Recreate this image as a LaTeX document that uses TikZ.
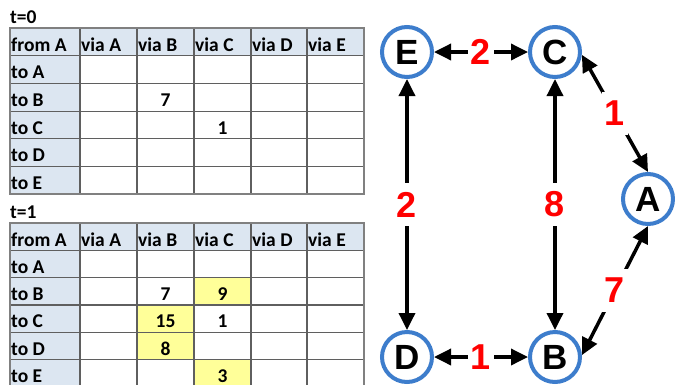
\documentclass[tikz,border=0pt]{standalone}
\usepackage{fontspec}
\newfontfamily\cellfont{Carlito}
\newfontfamily\graphfont{Liberation Sans}
\usetikzlibrary{arrows.meta}

\definecolor{hdrblue}{RGB}{220,230,241}
\definecolor{celly}{RGB}{255,255,153}
\definecolor{ringblue}{RGB}{61,125,204}
\definecolor{gridgray}{RGB}{95,95,95}

\begin{document}
\begin{tikzpicture}[x=1pt, y=-1pt, every node/.style={inner sep=0pt},
  cell/.style={font=\cellfont\bfseries\fontsize{19.5}{19.5}\selectfont, anchor=base west},
  num/.style={cell, anchor=base},
  grid/.style={draw=gridgray, line width=1.2pt},
  frame/.style={draw=gray, line width=2pt},
  router/.style={circle, draw=ringblue, line width=4pt, minimum size=50pt,
    font=\graphfont\bfseries\fontsize{35}{35}\selectfont},
  link/.style={{Triangle[length=17pt,width=16pt]}-{Triangle[length=17pt,width=16pt]}, line width=3.5pt},
  cost/.style={fill=white, text=red, inner xsep=3pt, inner ysep=9pt,
    font=\graphfont\bfseries\fontsize{36}{36}\selectfont}]
  \useasboundingbox (0,0) rectangle (675,384);

  % routing tables at t=0 and t=1 (top edge, row height)
  \foreach \t/\top/\h in {0/28/27.7, 1/223/27.3}{
    \fill[hdrblue] (10,\top) rectangle (364,\top+\h);
    \fill[hdrblue] (10,\top) rectangle (80,\top+6*\h);
    \ifnum\t=1
      \foreach \xa/\xb/\r in {194/251/2, 137/194/3, 137/194/4, 194/251/5}
        \fill[celly] (\xa,\top+\r*\h) rectangle (\xb,\top+\r*\h+\h);
    \fi
    \foreach \x in {80,137,194,251,307}
      \draw[grid] (\x,\top) -- (\x,\top+6*\h);
    \foreach \r in {1,...,5}
      \draw[grid] (10,\top+\r*\h) -- (364,\top+\r*\h);
    \draw[frame] (10,\top) rectangle (364,\top+6*\h);

    \node[cell] (title\t) at (10,\top-5) {t=\t};
    \foreach \c/\x/\txt in {0/11/from A, 1/81/via A, 2/138/via B, 3/195/via C, 4/252/via D, 5/308/via E}
      \node[cell] (head\t-\c) at (\x,\top+23) {\txt};
    \foreach \r/\txt in {1/to A, 2/to B, 3/to C, 4/to D, 5/to E}
      \node[cell] (dest\t-\r) at (11,\top+\r*\h+23) {\txt};
  }

  % path costs
  \node[num] (c0-b7) at (165.5,28+2*27.7+23) {7};
  \node[num] (c0-c1) at (222.5,28+3*27.7+23) {1};
  \node[num] (c1-b7) at (165.5,223+2*27.3+23) {7};
  \node[num] (c1-b9) at (222.5,223+2*27.3+23) {9};
  \node[num] (c1-c15) at (165.5,223+3*27.3+23) {15};
  \node[num] (c1-c1) at (222.5,223+3*27.3+23) {1};
  \node[num] (c1-d8) at (165.5,223+4*27.3+23) {8};
  \node[num] (c1-e3) at (222.5,223+5*27.3+23) {3};

  % routers
  \node[router] (E) at (407,52) {E};
  \node[router] (C) at (555,52) {C};
  \node[router] (A) at (648,199) {A};
  \node[router] (D) at (407,357) {D};
  \node[router] (B) at (555,357) {B};

  % links
  \draw[link] (E) -- (C) node[cost, midway] {2};
  \draw[link] (E) -- (D) node[cost, midway] {2};
  \draw[link] (C) -- (B) node[cost, midway] {8};
  \draw[link] (D) -- (B) node[cost, midway] {1};
  \draw[link] (C.-6) -- (A.north) node[cost, midway] {1};
  \draw[link] (A.south) -- (B.4) node[cost, midway] {7};
\end{tikzpicture}
\end{document}
